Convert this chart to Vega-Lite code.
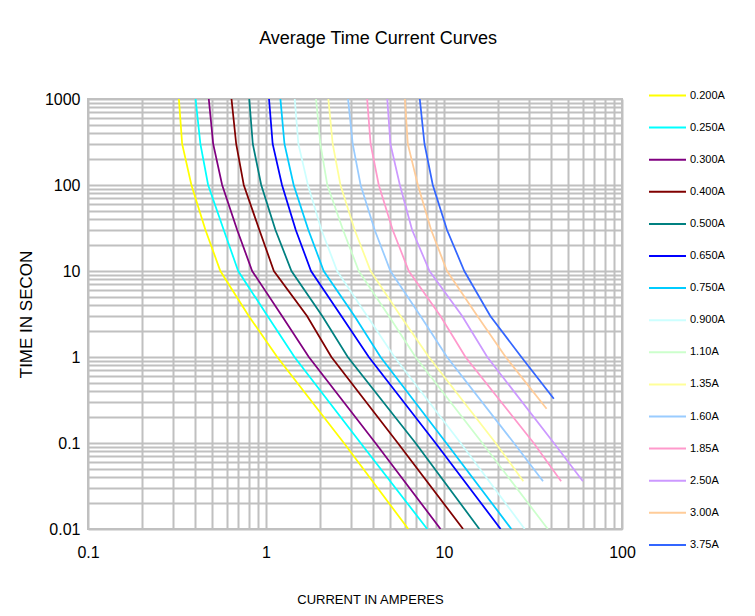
{
  "$schema": "https://vega.github.io/schema/vega-lite/v6.json",
  "width": 534,
  "height": 430,
  "autosize": "none",
  "padding": {"left": 88, "top": 99, "right": 133, "bottom": 88},
  "background": "white",
  "config": {
    "font": "Liberation Sans",
    "view": {"stroke": "#C0C0C0", "strokeWidth": 2},
    "axis": {"gridColor": "#C0C0C0", "gridWidth": 2, "gridOpacity": 1, "ticks": false, "domain": false, "labelColor": "black", "titleColor": "black", "labelFont": "Liberation Sans", "titleFont": "Liberation Sans", "titleFontWeight": "normal"}
  },
  "title": {"text": "Average Time Current Curves", "fontSize": 18, "fontWeight": "normal", "font": "Liberation Sans", "color": "black", "offset": 28, "dx": 23},
  "data": {"values": [
    {"c":"0.200A","i":0.324,"t":1000},{"c":"0.200A","i":0.338,"t":300},{"c":"0.200A","i":0.381,"t":100},{"c":"0.200A","i":0.457,"t":30},{"c":"0.200A","i":0.554,"t":10},{"c":"0.200A","i":0.80,"t":3},{"c":"0.200A","i":1.156,"t":1},{"c":"0.200A","i":2.74,"t":0.1},{"c":"0.200A","i":6.3,"t":0.01},
    {"c":"0.250A","i":0.402,"t":1000},{"c":"0.250A","i":0.428,"t":300},{"c":"0.250A","i":0.473,"t":100},{"c":"0.250A","i":0.579,"t":30},{"c":"0.250A","i":0.698,"t":10},{"c":"0.250A","i":1.02,"t":3},{"c":"0.250A","i":1.445,"t":1},{"c":"0.250A","i":3.40,"t":0.1},{"c":"0.250A","i":8.05,"t":0.01},
    {"c":"0.300A","i":0.477,"t":1000},{"c":"0.300A","i":0.505,"t":300},{"c":"0.300A","i":0.567,"t":100},{"c":"0.300A","i":0.689,"t":30},{"c":"0.300A","i":0.836,"t":10},{"c":"0.300A","i":1.23,"t":3},{"c":"0.300A","i":1.74,"t":1},{"c":"0.300A","i":4.12,"t":0.1},{"c":"0.300A","i":9.56,"t":0.01},
    {"c":"0.400A","i":0.64,"t":1000},{"c":"0.400A","i":0.68,"t":300},{"c":"0.400A","i":0.75,"t":100},{"c":"0.400A","i":0.918,"t":30},{"c":"0.400A","i":1.107,"t":10},{"c":"0.400A","i":1.70,"t":3},{"c":"0.400A","i":2.33,"t":1},{"c":"0.400A","i":5.50,"t":0.1},{"c":"0.400A","i":12.8,"t":0.01},
    {"c":"0.500A","i":0.805,"t":1000},{"c":"0.500A","i":0.843,"t":300},{"c":"0.500A","i":0.94,"t":100},{"c":"0.500A","i":1.13,"t":30},{"c":"0.500A","i":1.39,"t":10},{"c":"0.500A","i":2.07,"t":3},{"c":"0.500A","i":2.88,"t":1},{"c":"0.500A","i":6.92,"t":0.1},{"c":"0.500A","i":15.8,"t":0.01},
    {"c":"0.650A","i":1.04,"t":1000},{"c":"0.650A","i":1.09,"t":300},{"c":"0.650A","i":1.23,"t":100},{"c":"0.650A","i":1.47,"t":30},{"c":"0.650A","i":1.79,"t":10},{"c":"0.650A","i":2.65,"t":3},{"c":"0.650A","i":3.78,"t":1},{"c":"0.650A","i":8.96,"t":0.1},{"c":"0.650A","i":20.8,"t":0.01},
    {"c":"0.750A","i":1.205,"t":1000},{"c":"0.750A","i":1.27,"t":300},{"c":"0.750A","i":1.43,"t":100},{"c":"0.750A","i":1.73,"t":30},{"c":"0.750A","i":2.11,"t":10},{"c":"0.750A","i":3.14,"t":3},{"c":"0.750A","i":4.40,"t":1},{"c":"0.750A","i":10.3,"t":0.1},{"c":"0.750A","i":23.9,"t":0.01},
    {"c":"0.900A","i":1.45,"t":1000},{"c":"0.900A","i":1.52,"t":300},{"c":"0.900A","i":1.72,"t":100},{"c":"0.900A","i":2.05,"t":30},{"c":"0.900A","i":2.51,"t":10},{"c":"0.900A","i":3.70,"t":3},{"c":"0.900A","i":5.27,"t":1},{"c":"0.900A","i":12.4,"t":0.1},{"c":"0.900A","i":28.4,"t":0.01},
    {"c":"1.10A","i":1.91,"t":1000},{"c":"1.10A","i":2.02,"t":300},{"c":"1.10A","i":2.21,"t":100},{"c":"1.10A","i":2.71,"t":30},{"c":"1.10A","i":3.32,"t":10},{"c":"1.10A","i":4.90,"t":3},{"c":"1.10A","i":6.92,"t":1},{"c":"1.10A","i":16.4,"t":0.1},{"c":"1.10A","i":38.3,"t":0.01},
    {"c":"1.35A","i":2.24,"t":1000},{"c":"1.35A","i":2.37,"t":300},{"c":"1.35A","i":2.62,"t":100},{"c":"1.35A","i":3.15,"t":30},{"c":"1.35A","i":3.87,"t":10},{"c":"1.35A","i":5.70,"t":3},{"c":"1.35A","i":8.22,"t":1},{"c":"1.35A","i":19.5,"t":0.1},{"c":"1.35A","i":27.9,"t":0.036},
    {"c":"1.60A","i":2.89,"t":1000},{"c":"1.60A","i":3.07,"t":300},{"c":"1.60A","i":3.40,"t":100},{"c":"1.60A","i":4.08,"t":30},{"c":"1.60A","i":5.00,"t":10},{"c":"1.60A","i":7.38,"t":3},{"c":"1.60A","i":10.4,"t":1},{"c":"1.60A","i":24.7,"t":0.1},{"c":"1.60A","i":36,"t":0.036},
    {"c":"1.85A","i":3.70,"t":1000},{"c":"1.85A","i":3.87,"t":300},{"c":"1.85A","i":4.30,"t":100},{"c":"1.85A","i":5.15,"t":30},{"c":"1.85A","i":6.34,"t":10},{"c":"1.85A","i":9.55,"t":3},{"c":"1.85A","i":13.2,"t":1},{"c":"1.85A","i":31.9,"t":0.1},{"c":"1.85A","i":45.5,"t":0.036},
    {"c":"2.50A","i":4.80,"t":1000},{"c":"2.50A","i":5.00,"t":300},{"c":"2.50A","i":5.65,"t":100},{"c":"2.50A","i":6.62,"t":30},{"c":"2.50A","i":8.29,"t":10},{"c":"2.50A","i":12.65,"t":3},{"c":"2.50A","i":17.5,"t":1},{"c":"2.50A","i":41.4,"t":0.1},{"c":"2.50A","i":60.3,"t":0.036},
    {"c":"3.00A","i":6.03,"t":1000},{"c":"3.00A","i":6.26,"t":300},{"c":"3.00A","i":7.13,"t":100},{"c":"3.00A","i":8.47,"t":30},{"c":"3.00A","i":10.4,"t":10},{"c":"3.00A","i":15.4,"t":3},{"c":"3.00A","i":22.2,"t":1},{"c":"3.00A","i":37.7,"t":0.25},
    {"c":"3.75A","i":7.31,"t":1000},{"c":"3.75A","i":7.77,"t":300},{"c":"3.75A","i":8.65,"t":100},{"c":"3.75A","i":10.4,"t":30},{"c":"3.75A","i":13.0,"t":10},{"c":"3.75A","i":18.2,"t":3},{"c":"3.75A","i":27.2,"t":1},{"c":"3.75A","i":41.4,"t":0.327}
  ]},
  "mark": {"type": "line", "strokeWidth": 1.75, "clip": true},
  "encoding": {
    "x": {"field": "i", "type": "quantitative",
      "scale": {"type": "log", "domain": [0.1, 100], "nice": false},
      "axis": {"title": "CURRENT IN AMPERES", "titleFontSize": 13, "titleY": 70, "titleX": 282, "titleBaseline": "middle",
        "values": [0.1,0.2,0.3,0.4,0.5,0.6,0.7,0.8,0.9,1,2,3,4,5,6,7,8,9,10,20,30,40,50,60,70,80,90,100],
        "labelExpr": "datum.value == 0.1 || datum.value == 1 || datum.value == 10 || datum.value == 100 ? format(datum.value, '~g') : ''",
        "labelFontSize": 16, "labelPadding": 15, "labelFlush": false, "labelOverlap": false}},
    "y": {"field": "t", "type": "quantitative",
      "scale": {"type": "log", "domain": [0.01, 1000], "nice": false},
      "axis": {"title": "TIME IN SECON", "titleFontSize": 17, "titlePadding": 9,
        "values": [0.01,0.02,0.03,0.04,0.05,0.06,0.07,0.08,0.09,0.1,0.2,0.3,0.4,0.5,0.6,0.7,0.8,0.9,1,2,3,4,5,6,7,8,9,10,20,30,40,50,60,70,80,90,100,200,300,400,500,600,700,800,900,1000],
        "labelExpr": "datum.value == 0.01 || datum.value == 0.1 || datum.value == 1 || datum.value == 10 || datum.value == 100 || datum.value == 1000 ? format(datum.value, '~g') : ''",
        "labelFontSize": 16, "labelPadding": 8, "labelFlush": false, "labelOverlap": false}},
    "color": {"field": "c", "type": "nominal",
      "scale": {"domain": ["0.200A","0.250A","0.300A","0.400A","0.500A","0.650A","0.750A","0.900A","1.10A","1.35A","1.60A","1.85A","2.50A","3.00A","3.75A"],
        "range": ["#FFFF00","#00FFFF","#800080","#800000","#008080","#0000FF","#00CCFF","#CCFFFF","#CCFFCC","#FFFF99","#99CCFF","#FF99CC","#CC99FF","#FFCC99","#3366FF"]},
      "legend": {"title": null, "orient": "none", "legendX": 560, "legendY": -23, "symbolType": "stroke", "symbolSize": 1369, "symbolStrokeWidth": 2, "labelFontSize": 11, "labelColor": "black", "labelFont": "Liberation Sans", "rowPadding": 7.1, "labelOffset": 3}}
  }
}
